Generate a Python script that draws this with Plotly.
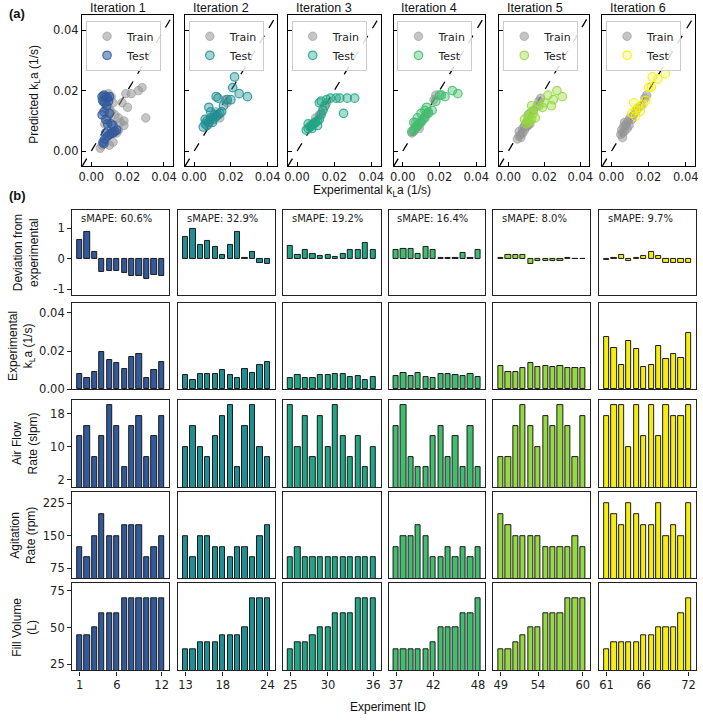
import plotly.graph_objects as go

W, H = 703, 724

iteration_names = ["Iteration 1", "Iteration 2", "Iteration 3", "Iteration 4", "Iteration 5", "Iteration 6"]
iteration_colors = ["#31599c", "#1f8f93", "#20a585", "#40bd6e", "#95d840", "#f5ee10"]
smape_labels = ["sMAPE: 60.6%", "sMAPE: 32.9%", "sMAPE: 19.2%", "sMAPE: 16.4%", "sMAPE: 8.0%", "sMAPE: 9.7%"]

# ---- (a) parity plots: predicted vs experimental kLa ----
train_x = [
    [0.006, 0.0095, 0.011, 0.012, 0.008, 0.010, 0.013, 0.015, 0.016, 0.018, 0.015, 0.017, 0.019, 0.022, 0.026, 0.028, 0.030, 0.020, 0.018, 0.005, 0.006, 0.012, 0.010, 0.009, 0.011, 0.014, 0.0075],
    [0.010, 0.012, 0.018, 0.017, 0.014, 0.008, 0.011],
    [0.009, 0.012, 0.014, 0.016, 0.013, 0.010, 0.007],
    [0.005, 0.006, 0.008, 0.010, 0.012, 0.014, 0.017, 0.018, 0.009, 0.007],
    [0.005, 0.006, 0.006, 0.007, 0.008, 0.008, 0.009, 0.010, 0.011, 0.007, 0.009, 0.012, 0.010, 0.011, 0.014, 0.017, 0.018, 0.016],
    [0.005, 0.0055, 0.006, 0.0065, 0.007, 0.0075, 0.008, 0.0085, 0.009, 0.0095, 0.010, 0.011, 0.012, 0.013, 0.014, 0.016, 0.018, 0.019, 0.006, 0.007],
]
train_y = [
    [0.017, 0.019, 0.018, 0.016, 0.014, 0.014, 0.012, 0.011, 0.0095, 0.0085, 0.007, 0.016, 0.019, 0.019, 0.020, 0.021, 0.011, 0.0145, 0.010, 0.001, 0.002, 0.003, 0.002, 0.011, 0.013, 0.006, 0.009],
    [0.011, 0.013, 0.016, 0.017, 0.011, 0.009, 0.0105],
    [0.0095, 0.012, 0.014, 0.016, 0.0125, 0.011, 0.0085],
    [0.006, 0.0065, 0.008, 0.010, 0.0115, 0.013, 0.017, 0.0185, 0.0075, 0.0095],
    [0.004, 0.005, 0.0065, 0.0055, 0.006, 0.0075, 0.007, 0.008, 0.0085, 0.0045, 0.0085, 0.009, 0.0095, 0.012, 0.0135, 0.0165, 0.0175, 0.015],
    [0.0055, 0.007, 0.006, 0.008, 0.0065, 0.0085, 0.009, 0.0075, 0.010, 0.0085, 0.011, 0.0105, 0.012, 0.013, 0.014, 0.015, 0.0175, 0.0185, 0.0045, 0.0095],
]
test_x = [
    [0.006, 0.007, 0.008, 0.009, 0.010, 0.0075, 0.0085, 0.006, 0.007, 0.010, 0.008, 0.009, 0.010, 0.011, 0.012, 0.013, 0.014, 0.0065, 0.007, 0.0075, 0.009, 0.011, 0.012, 0.008, 0.0065, 0.0095],
    [0.005, 0.006, 0.007, 0.007, 0.008, 0.009, 0.010, 0.011, 0.012, 0.013, 0.014, 0.015, 0.009, 0.008, 0.012, 0.013, 0.016, 0.018, 0.020, 0.021, 0.022, 0.0245, 0.029, 0.006, 0.010],
    [0.005, 0.006, 0.007, 0.008, 0.009, 0.010, 0.011, 0.012, 0.013, 0.014, 0.012, 0.015, 0.016, 0.018, 0.021, 0.023, 0.027, 0.031, 0.025, 0.006, 0.008, 0.011, 0.013],
    [0.005, 0.006, 0.007, 0.008, 0.009, 0.010, 0.011, 0.012, 0.013, 0.013, 0.012, 0.010, 0.014, 0.016, 0.018, 0.020, 0.021, 0.023, 0.027, 0.030, 0.008, 0.006],
    [0.010, 0.011, 0.012, 0.013, 0.011, 0.012, 0.013, 0.014, 0.015, 0.017, 0.019, 0.020, 0.022, 0.025, 0.027, 0.030, 0.024, 0.009, 0.013],
    [0.011, 0.012, 0.013, 0.0145, 0.0155, 0.017, 0.0185, 0.020, 0.0215, 0.022, 0.025, 0.029, 0.013],
]
test_y = [
    [0.018, 0.0185, 0.018, 0.0175, 0.018, 0.016, 0.015, 0.012, 0.013, 0.0125, 0.006, 0.005, 0.0055, 0.006, 0.006, 0.0065, 0.007, 0.003, 0.0025, 0.004, 0.009, 0.009, 0.0085, 0.0105, 0.0165, 0.0165],
    [0.008, 0.009, 0.010, 0.0085, 0.0095, 0.011, 0.0105, 0.012, 0.0115, 0.012, 0.0125, 0.013, 0.013, 0.0145, 0.018, 0.0175, 0.015, 0.017, 0.017, 0.021, 0.0245, 0.019, 0.018, 0.0105, 0.0095],
    [0.007, 0.0075, 0.008, 0.0085, 0.009, 0.0095, 0.010, 0.0105, 0.012, 0.0135, 0.016, 0.015, 0.017, 0.0175, 0.0175, 0.0175, 0.0175, 0.0175, 0.0125, 0.009, 0.0075, 0.0085, 0.0165],
    [0.0065, 0.007, 0.008, 0.0085, 0.009, 0.0095, 0.0105, 0.011, 0.0125, 0.0145, 0.0135, 0.0125, 0.0125, 0.0135, 0.0165, 0.0185, 0.0185, 0.018, 0.020, 0.019, 0.011, 0.0095],
    [0.009, 0.0095, 0.010, 0.0105, 0.011, 0.0125, 0.013, 0.0125, 0.011, 0.015, 0.0145, 0.016, 0.0185, 0.017, 0.020, 0.018, 0.015, 0.0105, 0.015],
    [0.0125, 0.016, 0.0135, 0.0145, 0.0132, 0.0155, 0.0168, 0.021, 0.0212, 0.0245, 0.0238, 0.0255, 0.0115],
]
parity_range = [-0.005, 0.045]
parity_ticks = [0.0, 0.02, 0.04]
parity_ticktext = ["0.00", "0.02", "0.04"]

# ---- (b) per-experiment bars ----
experiment_ids = list(range(1, 73))
deviation = [
    0.60, 0.89, 0.21, -0.45, -0.40, -0.40, -0.47, -0.58, -0.56, -0.67, -0.54, -0.56,
    0.70, 0.98, 0.46, 0.57, 0.38, 0.11, 0.44, 0.89, 0.02, 0.21, -0.13, -0.18,
    0.41, 0.11, 0.27, 0.14, 0.09, 0.11, 0.07, 0.16, 0.30, 0.30, 0.52, 0.30,
    0.30, 0.33, 0.33, 0.16, 0.38, 0.30, 0.02, 0.02, 0.02, 0.19, 0.02, 0.30,
    0.02, 0.11, 0.11, 0.11, -0.18, -0.08, -0.08, -0.08, -0.08, 0.02, -0.02, -0.02,
    -0.06, 0.02, 0.11, -0.07, 0.02, 0.09, 0.21, 0.08, -0.15, -0.15, -0.15, -0.15,
]
exp_kla = [
    0.0082, 0.0061, 0.0092, 0.0195, 0.0151, 0.0139, 0.0104, 0.0170, 0.0186, 0.0056, 0.0099, 0.0144,
    0.0075, 0.0049, 0.0082, 0.0077, 0.0077, 0.0099, 0.0072, 0.0056, 0.0108, 0.0083, 0.0128, 0.0144,
    0.0056, 0.0072, 0.0061, 0.0061, 0.0075, 0.0072, 0.0082, 0.0077, 0.0066, 0.0070, 0.0047, 0.0064,
    0.0068, 0.0083, 0.0070, 0.0083, 0.0063, 0.0059, 0.0077, 0.0082, 0.0075, 0.0070, 0.0078, 0.0064,
    0.0121, 0.0092, 0.0089, 0.0110, 0.0139, 0.0116, 0.0119, 0.0116, 0.0121, 0.0110, 0.0111, 0.0113,
    0.0273, 0.0214, 0.0129, 0.0252, 0.0209, 0.0117, 0.0129, 0.0228, 0.0158, 0.0184, 0.0165, 0.0296,
]
air_flow = [
    12.5, 15, 7.5, 12.5, 20, 15, 5, 15, 17.5, 7.5, 12.5, 17.5,
    10, 15, 10, 7.5, 12.5, 17.5, 20, 5, 15, 20, 10, 7.5,
    20, 10, 17.5, 7.5, 17.5, 10, 20, 12.5, 7.5, 12.5, 5, 10,
    15, 20, 7.5, 5, 5, 12.5, 15, 7.5, 12.5, 5, 15, 5,
    7.5, 7.5, 15, 20, 15, 10, 17.5, 15, 20, 15, 7.5, 17.5,
    17.5, 20, 20, 10, 20, 12.5, 20, 12.5, 20, 17.5, 17.5, 20,
]
agitation = [
    125, 100, 150, 200, 150, 150, 175, 175, 175, 100, 125, 150,
    150, 100, 150, 150, 125, 125, 100, 125, 125, 100, 150, 175,
    100, 125, 100, 100, 100, 100, 100, 100, 100, 100, 100, 100,
    125, 150, 150, 175, 150, 100, 100, 125, 100, 125, 100, 125,
    200, 175, 150, 150, 150, 150, 125, 125, 125, 125, 150, 125,
    225, 200, 175, 225, 200, 175, 175, 225, 150, 175, 150, 225,
]
fill_volume = [
    45, 45, 50, 60, 60, 60, 70, 70, 70, 70, 70, 70,
    35, 35, 40, 40, 40, 45, 45, 45, 50, 70, 70, 70,
    35, 40, 40, 45, 50, 50, 60, 60, 60, 70, 70, 70,
    35, 35, 35, 35, 35, 40, 50, 50, 50, 60, 60, 70,
    35, 35, 40, 45, 50, 50, 60, 60, 60, 70, 70, 70,
    35, 40, 40, 40, 40, 45, 45, 50, 50, 50, 60, 70,
]
row_values = [deviation, exp_kla, air_flow, agitation, fill_volume]
row_titles = ["Deviation from<br>experimental", "Experimental<br>k<sub>L</sub>a (1/s)",
              "Air Flow<br>Rate (slpm)", "Agitation<br>Rate (rpm)", "Fill Volume<br>(L)"]
row_ranges = [[-1.2, 1.6], [0, 0.0452], [0.15, 21.3], [52, 251], [20.7, 80.2]]
row_tickvals = [[-1, 0, 1], [0, 0.02, 0.04], [2, 10, 18], [75, 150, 225], [25, 50, 75]]
row_ticktext = [["-1", "0", "1"], ["0.00", "0.02", "0.04"], ["2", "10", "18"], ["75", "150", "225"], ["25", "50", "75"]]

# ---- layout geometry (pixels) ----
a_cols = [(79, 171), (183, 276), (287, 381), (394, 487), (501, 592), (605, 699)]
a_row = (15, 168)
b_cols = [(69, 167), (176, 274), (282, 381), (389, 487), (495, 593), (602, 700)]
b_rows = [(212, 298), (306, 393), (404, 492), (497, 584), (589, 677)]
row_label_x = [22, 17, 21, 20, 21]

TICKFONT = dict(family="DejaVu Sans", size=11.5, color="#222222")
LABELFONT = dict(family="Liberation Sans, Arial", size=12, color="#111111")


def xd(l, r):
    return [l / W, r / W]


def yd(t, b):
    return [1 - b / H, 1 - t / H]


def rgba(hexc, a):
    h = hexc.lstrip("#")
    return "rgba(%d,%d,%d,%.2f)" % (int(h[0:2], 16), int(h[2:4], 16), int(h[4:6], 16), a)


fig = go.Figure()
layout = {}
annotations = []

# (a) parity panels
for k in range(6):
    n = k + 1
    xa = "x" if n == 1 else "x%d" % n
    ya = "y" if n == 1 else "y%d" % n
    leg = "legend" if n == 1 else "legend%d" % n
    col = iteration_colors[k]
    fig.add_trace(go.Scatter(x=parity_range, y=parity_range, mode="lines",
                             line=dict(color="black", width=1.3, dash="dash"),
                             xaxis=xa, yaxis=ya, showlegend=False, hoverinfo="skip"))
    fig.add_trace(go.Scatter(x=train_x[k], y=train_y[k], mode="markers", name="Train",
                             marker=dict(size=8.5, color="rgba(150,150,150,0.55)",
                                         line=dict(color="rgba(150,150,150,0.6)", width=1)),
                             xaxis=xa, yaxis=ya, legend=leg))
    fill_a = 0.55 if k == 0 else (0.25 if k == 5 else 0.4)
    fig.add_trace(go.Scatter(x=test_x[k], y=test_y[k], mode="markers", name="Test",
                             marker=dict(size=8.5, color=rgba(col, fill_a),
                                         line=dict(color=rgba(col, 0.85), width=1.2)),
                             xaxis=xa, yaxis=ya, legend=leg))
    l, r = a_cols[k]
    layout["xaxis" if n == 1 else "xaxis%d" % n] = dict(
        domain=xd(l, r), anchor=ya, range=parity_range, tickvals=parity_ticks, ticktext=parity_ticktext,
        ticks="inside", ticklen=4, tickcolor="black", showgrid=False, zeroline=False,
        showline=True, mirror=True, linecolor="black", linewidth=1.3, tickfont=TICKFONT)
    layout["yaxis" if n == 1 else "yaxis%d" % n] = dict(
        domain=yd(*a_row), anchor=xa, range=parity_range, tickvals=parity_ticks, ticktext=parity_ticktext,
        ticks="inside", ticklen=4, tickcolor="black", showgrid=False, zeroline=False,
        showticklabels=(k == 0), showline=True, mirror=True, linecolor="black", linewidth=1.3,
        tickfont=TICKFONT)
    layout[leg] = dict(x=(l + 4) / W, y=1 - (a_row[0] + 6) / H, xanchor="left", yanchor="top",
                       bgcolor="rgba(255,255,255,0.85)", bordercolor="#cccccc", borderwidth=1,
                       font=dict(family="DejaVu Sans", size=11, color="#222222"),
                       tracegroupgap=0, itemwidth=30)
    annotations.append(dict(text=iteration_names[k], xref="paper", yref="paper",
                            x=(l + 6) / W, y=1 - 8 / H, xanchor="left", yanchor="middle",
                            showarrow=False, font=dict(family="Liberation Sans, Arial", size=12.5, color="#111111")))

# (b) bar panels
for r_i in range(5):
    t, b = b_rows[r_i]
    for c in range(6):
        n = 7 + r_i * 6 + c
        xa, ya = "x%d" % n, "y%d" % n
        ids = experiment_ids[c * 12:(c + 1) * 12]
        vals = row_values[r_i][c * 12:(c + 1) * 12]
        fig.add_trace(go.Bar(x=ids, y=vals, width=0.7,
                             marker=dict(color=iteration_colors[c], line=dict(color="#1a1a1a", width=1)),
                             xaxis=xa, yaxis=ya, showlegend=False))
        l, rr = b_cols[c]
        last = r_i == 4
        layout["xaxis%d" % n] = dict(
            domain=xd(l, rr), anchor=ya, range=[ids[0] - 1, ids[-1] + 1],
            tickvals=[ids[0], ids[0] + 5, ids[-1]] if last else [],
            ticks="outside" if last else "", ticklen=4, tickcolor="#222222",
            showticklabels=last, showgrid=False, zeroline=False,
            showline=True, mirror=True, linecolor="#222222", linewidth=1.4, tickfont=TICKFONT)
        layout["yaxis%d" % n] = dict(
            domain=yd(t, b), anchor=xa, range=row_ranges[r_i],
            tickvals=row_tickvals[r_i] if c == 0 else [], ticktext=row_ticktext[r_i] if c == 0 else [],
            ticks="outside" if c == 0 else "", ticklen=4, tickcolor="#222222",
            showticklabels=(c == 0), showgrid=False, zeroline=False,
            showline=True, mirror=True, linecolor="#222222", linewidth=1.4, tickfont=TICKFONT)
        if r_i == 0:
            annotations.append(dict(text=smape_labels[c], xref="paper", yref="paper",
                                    x=(l + 7) / W, y=1 - (t + 9) / H, xanchor="left", yanchor="middle",
                                    showarrow=False, font=dict(family="DejaVu Sans", size=10, color="#222222")))
    annotations.append(dict(text=row_titles[r_i], xref="paper", yref="paper",
                            x=row_label_x[r_i] / W, y=1 - ((t + b) / 2) / H, textangle=-90,
                            xanchor="center", yanchor="middle", showarrow=False, font=LABELFONT))

# panel labels and axis titles
annotations += [
    dict(text="<b>(a)</b>", xref="paper", yref="paper", x=3 / W, y=1 - 14 / H, xanchor="left",
         yanchor="middle", showarrow=False, font=dict(family="Liberation Sans, Arial", size=13, color="#111111")),
    dict(text="<b>(b)</b>", xref="paper", yref="paper", x=3 / W, y=1 - 197 / H, xanchor="left",
         yanchor="middle", showarrow=False, font=dict(family="Liberation Sans, Arial", size=13, color="#111111")),
    dict(text="Predicted k<sub>L</sub>a (1/s)", xref="paper", yref="paper", x=31 / W, y=1 - 95 / H,
         textangle=-90, xanchor="center", yanchor="middle", showarrow=False, font=LABELFONT),
    dict(text="Experimental k<sub>L</sub>a (1/s)", xref="paper", yref="paper", x=372 / W, y=1 - 193 / H,
         xanchor="center", yanchor="middle", showarrow=False, font=LABELFONT),
    dict(text="Experiment ID", xref="paper", yref="paper", x=388 / W, y=1 - 714 / H,
         xanchor="center", yanchor="middle", showarrow=False, font=LABELFONT),
]

fig.update_layout(**layout)
fig.update_layout(width=W, height=H, margin=dict(l=0, r=0, t=0, b=0), autosize=False,
                  plot_bgcolor="white", paper_bgcolor="white", bargap=0,
                  annotations=annotations, hovermode=False)

fig.write_html("out.html", config={"displayModeBar": False},
               post_script="document.body.style.margin='0';document.body.style.overflow='hidden';")
